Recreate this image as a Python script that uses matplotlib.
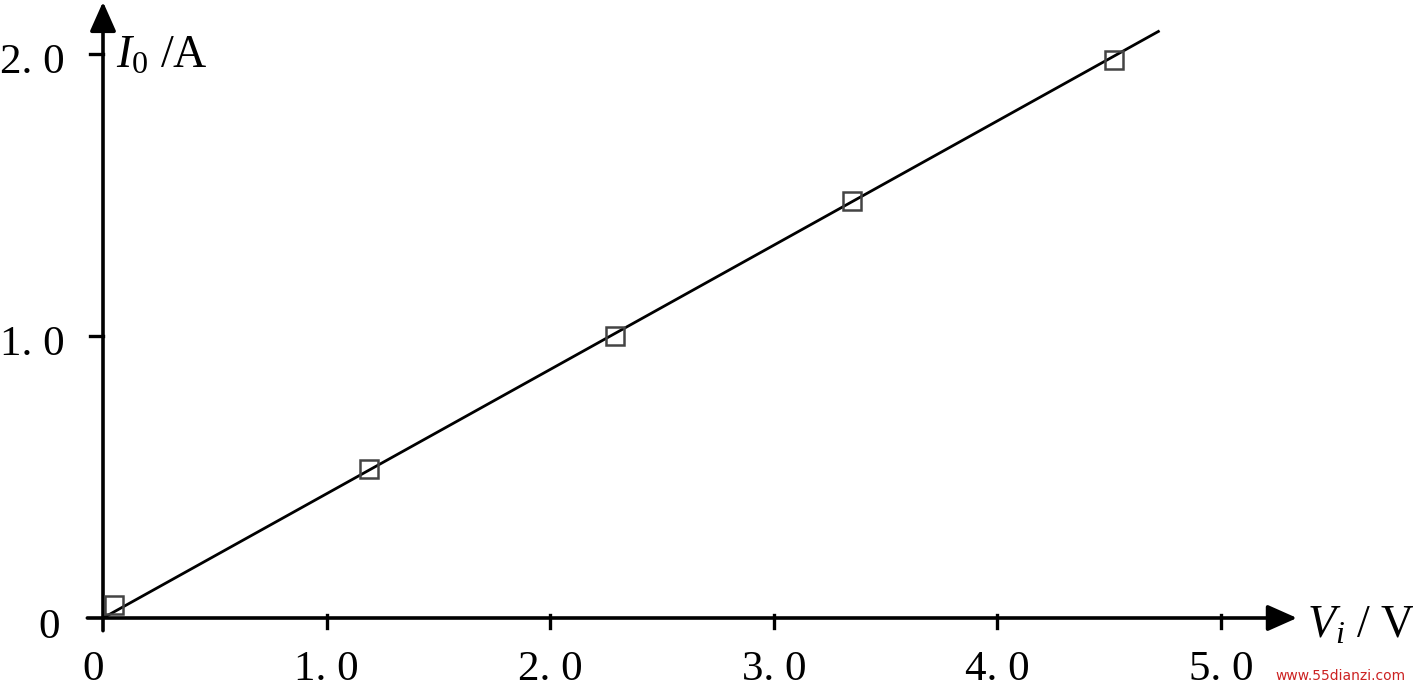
import matplotlib
matplotlib.use("Agg")
import matplotlib.pyplot as plt

# data
v_in = [0.05, 1.19, 2.29, 3.35, 4.52]      # V_i / V
i_out = [0.045, 0.53, 1.00, 1.48, 1.98]    # I_0 / A
fit_v = [0.0, 4.72]
fit_i = [0.0, 2.08]
x_ticks = [0, 1.0, 2.0, 3.0, 4.0, 5.0]
x_tick_labels = ["0", "1. 0", "2. 0", "3. 0", "4. 0", "5. 0"]
y_ticks = [0, 1.0, 2.0]
y_tick_labels = ["0", "1. 0", "2. 0"]

plt.rcParams['font.family'] = ['Liberation Serif', 'DejaVu Serif']
plt.rcParams['mathtext.fontset'] = 'custom'
plt.rcParams['mathtext.rm'] = 'Liberation Serif'
plt.rcParams['mathtext.it'] = 'Liberation Serif:italic'

W, H = 1413, 689
fig = plt.figure(figsize=(W / 100, H / 100), dpi=100)
ax = fig.add_axes([0, 0, 1, 1])

# pixel mapping: x0=103 px, 223.6 px/unit ; y0=618 px from top, 282 px/unit
x0, sx = 103, 223.6
y0, sy = 618, 282
ax.set_xlim(-x0 / sx, (W - x0) / sx)
ax.set_ylim((y0 - H) / sy, y0 / sy)
ax.set_xticks([])
ax.set_yticks([])
for s in ax.spines.values():
    s.set_visible(False)

# axes with arrows
ax.annotate("", xy=(5.34, 0), xytext=(-0.07, 0),
            arrowprops=dict(arrowstyle="-|>,head_length=0.9,head_width=0.4",
                            mutation_scale=20, lw=2.6, color="black",
                            shrinkA=0, shrinkB=0))
ax.annotate("", xy=(0, 2.185), xytext=(0, -0.045),
            arrowprops=dict(arrowstyle="-|>,head_length=0.9,head_width=0.4",
                            mutation_scale=20, lw=2.6, color="black",
                            shrinkA=0, shrinkB=0))

# ticks
for xt, lab in zip(x_ticks, x_tick_labels):
    if xt != 0:
        ax.plot([xt, xt], [-0.035, 0.01], color="black", lw=2.4)
    ax.text(xt - (0.045 if xt == 0 else 0), -0.183, lab, ha="center",
            va="center", fontsize=31)
for yt, lab in zip(y_ticks, y_tick_labels):
    if yt != 0:
        ax.plot([-0.06, 0], [yt, yt], color="black", lw=2.4)
    ax.text(-0.17 if yt != 0 else -0.195, yt - (0.03 if yt != 0 else 0.035),
            lab, ha="right", va="center", fontsize=31)

# fit line and markers
ax.plot(fit_v, fit_i, color="black", lw=2.0, zorder=3)
ax.plot(v_in, i_out, linestyle="none", marker="s", markersize=12.5,
        markerfacecolor="none", markeredgecolor="#444444", markeredgewidth=1.8,
        zorder=4)

# axis labels
ax.text(0.06, (y0 - 68) / sy, r"$I_0$ /A", ha="left", va="baseline", fontsize=33)
ax.text((1307 - x0) / sx, (y0 - 638) / sy, r"$V_i$ / V", ha="left",
        va="baseline", fontsize=33)

# watermark
ax.text((1340 - x0) / sx, (y0 - 676) / sy, "www.55dianzi.com", ha="center",
        va="center", fontsize=10, color="#cc2222", family="DejaVu Sans")

fig.savefig("out.png", dpi=100)
